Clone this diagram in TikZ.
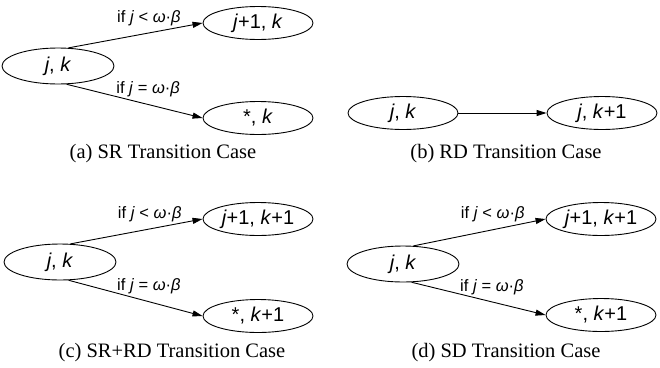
\documentclass[tikz,border=0pt]{standalone}
\usepackage{fontspec}
\setmainfont{Liberation Sans}
\newfontfamily\capfont{Liberation Serif}
\usetikzlibrary{shapes.geometric,arrows.meta}
\newcommand\Iv[1]{\textit{#1}}
\begin{document}
\begin{tikzpicture}[x=1pt,y=-1pt,
  st/.style={ellipse,draw,line width=0.9pt,minimum width=110pt,minimum height=33pt,inner sep=0pt,font=\fontsize{20}{24}\selectfont},
  src/.style={st,minimum width=112pt,minimum height=36pt},
  tr/.style={draw,line width=0.9pt,-{Triangle[length=10pt,width=6pt]}},
  lab/.style={font=\fontsize{16.5}{19}\selectfont,inner sep=2pt},
  captext/.style={font=\capfont\fontsize{20.5}{24}\selectfont}]
\useasboundingbox (0,0) rectangle (660,367);
% (a)
\node[src] (a0) at (58,66) {\Iv{j}, \Iv{k}};
\node[st] (a1) at (258,23) {\Iv{j}+1, \Iv{k}};
\node[st] (a2) at (258,118) {*, \Iv{k}};
\draw[tr] (a0.60) -- node[lab,pos=0.6,above=5pt]{if \Iv{j} < \Iv{ω}·\Iv{β}} (a1.west);
\draw[tr] (a0.-65) -- node[lab,pos=0.6,above=5pt]{if \Iv{j} = \Iv{ω}·\Iv{β}} (a2.west);
\node[captext] (ca) at (163,154) {(a) SR Transition Case};
% (b)
\node[st] (b0) at (403,113) {\Iv{j}, \Iv{k}};
\node[st] (b1) at (602,113) {\Iv{j}, \Iv{k}+1};
\draw[tr] (b0) -- (b1);
\node[captext] (cb) at (506,154) {(b) RD Transition Case};
% (c)
\node[src] (c0) at (60,262) {\Iv{j}, \Iv{k}};
\node[st] (c1) at (258,219) {\Iv{j}+1, \Iv{k}+1};
\node[st] (c2) at (258,316) {*, \Iv{k}+1};
\draw[tr] (c0.60) -- node[lab,pos=0.6,above=5pt]{if \Iv{j} < \Iv{ω}·\Iv{β}} (c1.west);
\draw[tr] (c0.-65) -- node[lab,pos=0.6,above=5pt]{if \Iv{j} = \Iv{ω}·\Iv{β}} (c2.west);
\node[captext] (cc) at (172,353) {(c) SR+RD Transition Case};
% (d)
\node[src] (d0) at (403,264) {\Iv{j}, \Iv{k}};
\node[st] (d1) at (601,219) {\Iv{j}+1, \Iv{k}+1};
\node[st] (d2) at (601,315) {*, \Iv{k}+1};
\draw[tr] (d0.60) -- node[lab,pos=0.6,above=5pt]{if \Iv{j} < \Iv{ω}·\Iv{β}} (d1.west);
\draw[tr] (d0.-65) -- node[lab,pos=0.6,above=5pt]{if \Iv{j} = \Iv{ω}·\Iv{β}} (d2.west);
\node[captext] (cd) at (506,353) {(d) SD Transition Case};
\end{tikzpicture}
\end{document}
